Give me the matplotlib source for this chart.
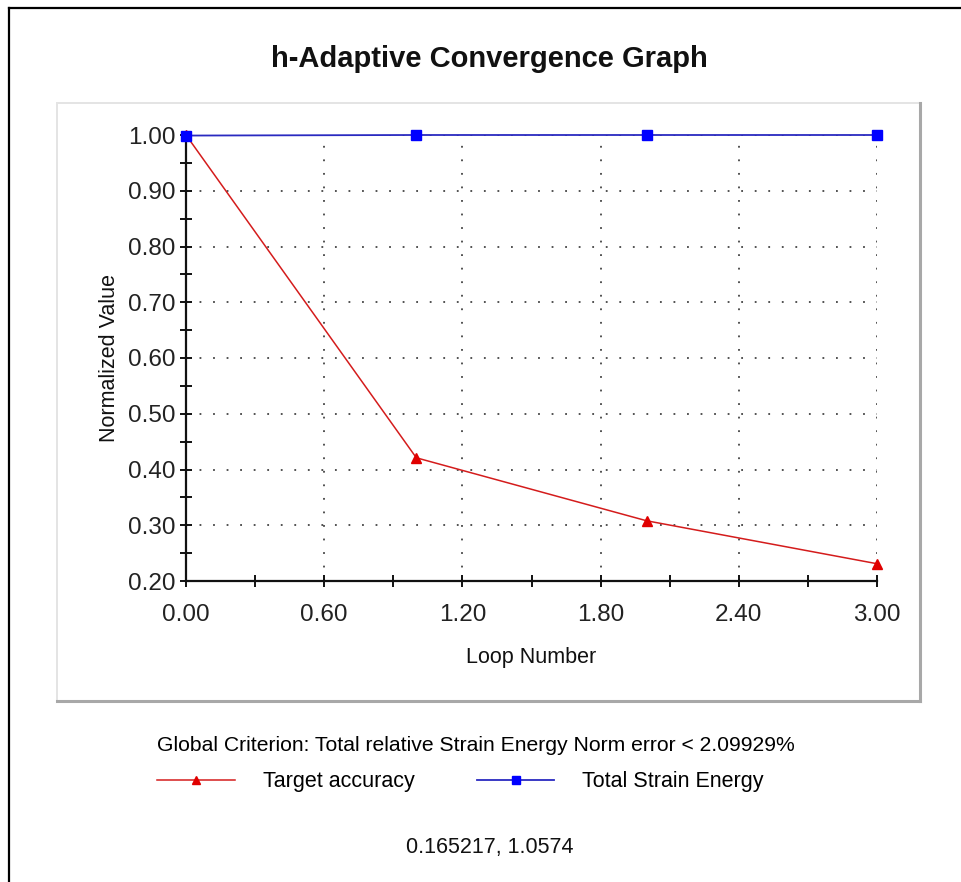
import matplotlib
matplotlib.use("Agg")
import matplotlib.pyplot as plt
from matplotlib.lines import Line2D
from matplotlib.ticker import MultipleLocator, FormatStrFormatter

plt.rcParams['font.family'] = ['Liberation Sans', 'DejaVu Sans']

# ---- data ----
loop_number = [0, 1, 2, 3]
target_accuracy = [1.0, 0.421, 0.308, 0.231]
total_strain_energy = [0.999, 1.0, 1.0, 1.0]
series_names = ["Target accuracy", "Total Strain Energy"]
title = "h-Adaptive Convergence Graph"
x_label = "Loop Number"
y_label = "Normalized Value"
criterion_text = "Global Criterion: Total relative Strain Energy Norm error < 2.09929%"
cursor_text = "0.165217, 1.0574"

W, H = 961, 882
fig = plt.figure(figsize=(W / 100, H / 100), dpi=100)
fig.patch.set_facecolor("white")

def fx(px):
    return px / W

def fy(py):
    return 1 - py / H

# outer border (left and top)
fig.add_artist(Line2D([fx(9), fx(9)], [fy(8), 0], transform=fig.transFigure, color="black", lw=1.6))
fig.add_artist(Line2D([fx(9), 1], [fy(8), fy(8)], transform=fig.transFigure, color="black", lw=1.6))

# inner panel
pl, pr, pt, pb = 57, 920, 103, 701
fig.add_artist(Line2D([fx(pl), fx(pl)], [fy(pb), fy(pt)], transform=fig.transFigure, color="#e4e4e4", lw=1.4))
fig.add_artist(Line2D([fx(pl), fx(pr)], [fy(pt), fy(pt)], transform=fig.transFigure, color="#e4e4e4", lw=1.4))
fig.add_artist(Line2D([fx(pr), fx(pr)], [fy(pb), fy(pt)], transform=fig.transFigure, color="#a8a8a8", lw=2.2))
fig.add_artist(Line2D([fx(pl), fx(pr)], [fy(pb), fy(pb)], transform=fig.transFigure, color="#a8a8a8", lw=2.2))

fig.text(fx(489), fy(59), title, ha="center", va="center", fontsize=21, fontweight="bold", color="#111111")

ax = fig.add_axes([fx(186), fy(581), fx(877) - fx(186), fy(135) - fy(581)])
ax.set_facecolor("none")

l1, = ax.plot(loop_number, target_accuracy, color="#d41c1c", lw=1.1, marker="^", markersize=7,
              markerfacecolor="#e00000", markeredgecolor="#e00000", clip_on=False, zorder=5,
              label=series_names[0])
l2, = ax.plot(loop_number, total_strain_energy, color="#2a2ac0", lw=1.3, marker="s", markersize=7,
              markerfacecolor="#0000ff", markeredgecolor="#0000ff", clip_on=False, zorder=6,
              label=series_names[1])

ax.set_xlim(0, 3)
ax.set_ylim(0.2, 1.0)
ax.xaxis.set_major_locator(MultipleLocator(0.6))
ax.xaxis.set_minor_locator(MultipleLocator(0.3))
ax.yaxis.set_major_locator(MultipleLocator(0.1))
ax.yaxis.set_minor_locator(MultipleLocator(0.05))
ax.xaxis.set_major_formatter(FormatStrFormatter("%.2f"))
ax.yaxis.set_major_formatter(FormatStrFormatter("%.2f"))

for s in ["top", "right"]:
    ax.spines[s].set_visible(False)
for s in ["left", "bottom"]:
    ax.spines[s].set_linewidth(1.6)
    ax.spines[s].set_color("#111111")

ax.tick_params(axis="both", which="both", direction="inout", color="#111111", width=1.4)
ax.tick_params(axis="both", which="major", length=9, labelsize=17.5, labelcolor="#222222")
ax.tick_params(axis="both", which="minor", length=9)
ax.tick_params(axis="x", which="major", pad=12)
ax.tick_params(axis="y", which="major", pad=3)

ax.grid(True, which="major", color="#444444", linestyle=(0, (1, 6.5)), linewidth=1.3)

ax.set_xlabel(x_label, fontsize=15.5, color="#111111", labelpad=15)
ax.set_ylabel(y_label, fontsize=15.5, color="#111111", labelpad=6)

leg = fig.legend(handles=[l1, l2], labels=series_names, ncol=2, frameon=False,
                 loc="center", bbox_to_anchor=(fx(476), fy(764)),
                 fontsize=15.5, title=criterion_text, title_fontsize=15.2,
                 handlelength=3.6, handletextpad=1.3, columnspacing=2.9,
                 labelspacing=0.78, markerscale=0.8)
leg._legend_box.align = "left"

fig.text(fx(490), fy(848), cursor_text, ha="center", va="center", fontsize=15.5, color="#111111")

fig.savefig("out.png", dpi=100, facecolor="white")
